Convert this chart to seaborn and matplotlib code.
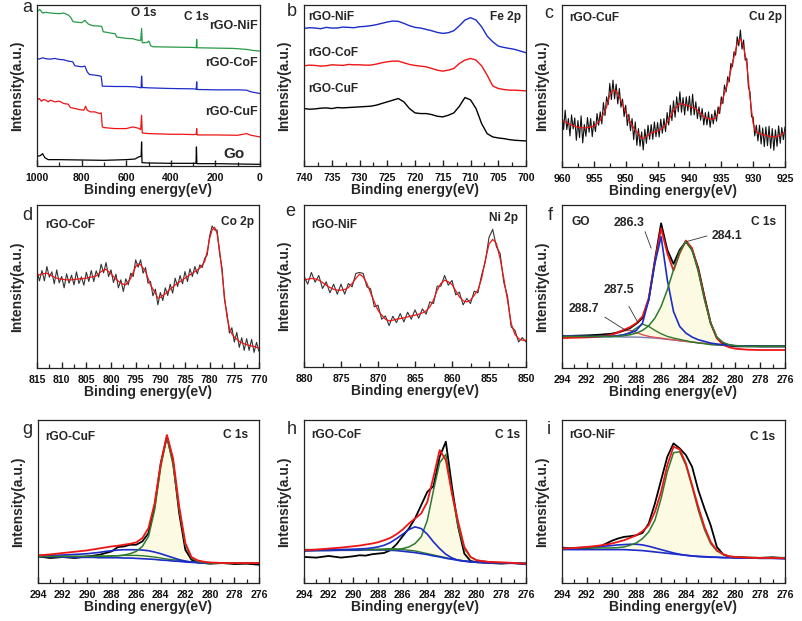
import matplotlib
matplotlib.use('Agg')
import matplotlib.pyplot as plt
from matplotlib.ticker import MultipleLocator, AutoMinorLocator
import numpy as np
import seaborn as sns

# ---------------- a: survey spectra (stacked, a.u.)
a_go_ev = [1000, 985, 975, 965, 950, 900, 800, 700, 600, 560, 545, 533, 531, 529, 500, 400, 300, 287, 285, 283, 200, 100, 0]
a_go = [29, 31, 37, 25, 19, 19, 18, 17, 19, 21, 27, 29, 72, 10, 9, 8, 8, 8, 57, 7, 7, 6, 5]
a_cuf_ev = [1000, 990, 980, 970, 960, 950, 940, 920, 900, 880, 860, 850, 830, 810, 790, 782, 775, 760, 740, 720,
            712, 707, 700, 650, 600, 570, 545, 535, 531, 528, 500, 450, 400, 350, 300, 286, 284, 282, 200, 100,
            60, 40, 0]
a_cuf = [197, 202, 194, 199, 197, 192, 197, 192, 194, 187, 185, 175, 172, 169, 167, 179, 167, 162, 162, 157,
         159, 117, 115, 112, 112, 117, 113, 109, 152, 99, 97, 96, 95, 95, 94, 95, 112, 93, 93, 92,
         97, 92, 87]
a_cof_ev = [1000, 990, 975, 960, 940, 920, 900, 880, 860, 840, 830, 800, 785, 775, 765, 740, 720, 712, 707, 650,
            600, 560, 540, 533, 531, 528, 500, 450, 400, 300, 286, 284, 282, 200, 100, 60, 40, 0]
a_cof = [322, 320, 324, 321, 320, 322, 319, 318, 314, 312, 300, 297, 299, 282, 274, 272, 270, 268, 239, 238,
         238, 237, 235, 234, 269, 235, 234, 233, 232, 231, 230, 252, 229, 228, 228, 227, 222, 217]
a_nif_ev = [1000, 988, 975, 960, 940, 920, 900, 880, 860, 850, 838, 800, 785, 770, 750, 720, 710, 703, 670, 650,
            642, 620, 600, 570, 550, 535, 531, 528, 505, 498, 490, 480, 400, 300, 286, 284, 282, 200, 118, 60,
            30, 0]
a_nif = [462, 469, 458, 460, 458, 457, 456, 458, 452, 446, 432, 429, 436, 425, 420, 419, 418, 402, 398, 396,
         386, 384, 382, 381, 377, 376, 412, 369, 370, 374, 360, 357, 356, 355, 354, 379, 354, 353, 352, 349,
         346, 344]

# ---------------- b: Fe 2p
b_ev = [740, 739, 738, 737, 736, 735, 734, 733, 732, 731, 730, 729, 728, 727, 726, 725, 724, 723, 722, 721,
        720, 719, 718, 717, 716, 715, 714, 713, 712, 711, 710, 709, 708, 707, 706, 705, 704, 703, 702, 701, 700]
b_nif = [412, 414, 413, 411, 415, 413, 413, 416, 415, 414, 417, 418, 420, 423, 427, 431, 434, 433, 427, 420,
         415, 413, 409, 405, 400, 397, 399, 405, 420, 437, 444, 437, 417, 389, 372, 359, 355, 352, 349, 344, 339]
b_cof = [300, 302, 301, 299, 300, 303, 302, 301, 304, 303, 303, 302, 302, 305, 309, 312, 314, 314, 309, 304,
         301, 299, 297, 292, 287, 284, 287, 292, 307, 317, 322, 317, 300, 272, 240, 232, 229, 227, 227, 226, 225]
b_cuf = [172, 170, 171, 173, 174, 172, 175, 174, 175, 176, 177, 178, 179, 182, 187, 192, 197, 202, 192, 172,
         159, 157, 157, 154, 149, 147, 152, 159, 179, 205, 198, 172, 127, 97, 87, 84, 82, 79, 77, 76, 75]

# ---------------- c: Cu 2p (raw 0.25 eV, fit 0.5 eV)
c_ev = np.arange(960, 924.9, -0.25)
c_raw = [160, 112, 170, 112, 145, 93, 156, 114, 147, 80,
         139, 88, 153, 72, 127, 92, 148, 104, 145, 91,
         137, 106, 160, 125, 165, 129, 193, 154, 210, 187,
         250, 202, 260, 204, 248, 189, 235, 179, 203, 151,
         185, 124, 158, 109, 145, 82, 135, 65, 115, 62,
         105, 51, 113, 71, 125, 83, 127, 83, 135, 91,
         133, 90, 143, 101, 145, 106, 163, 126, 185, 139,
         198, 149, 210, 165, 225, 164, 208, 156, 210, 168,
         212, 155, 218, 156, 195, 145, 180, 140, 175, 126,
         163, 126, 165, 119, 158, 129, 170, 137, 180, 160,
         210, 190, 245, 225, 270, 255, 310, 300, 345, 335,
         390, 363, 410, 353, 380, 320, 325, 240, 225, 150,
         150, 93, 125, 78, 125, 69, 117, 61, 120, 64,
         122, 56, 115, 50, 111, 62, 123, 71, 118, 82,
         120]
c_fit_ev = np.arange(960, 924.9, -0.5)
c_fit = [140, 135, 130, 126, 122, 119, 118, 117, 118, 120,
         122, 130, 140, 158, 180, 215, 230, 228, 210, 188,
         165, 143, 125, 110, 100, 85, 88, 95, 102, 105,
         108, 113, 120, 133, 150, 168, 180, 190, 188, 185,
         182, 178, 175, 165, 155, 148, 145, 143, 145, 160,
         190, 220, 250, 290, 330, 370, 385, 360, 310, 210,
         130, 105, 100, 97, 95, 92, 90, 91, 93, 98,
         105]

# ---------------- d: Co 2p
d_ev = np.arange(815, 769.9, -0.5)
d_raw = [292, 262, 293, 262, 305, 273, 289, 253, 295, 256,
         275, 241, 283, 255, 279, 250, 289, 254, 274, 249,
         288, 260, 293, 260, 292, 273, 312, 286, 317, 275,
         295, 257, 282, 241, 265, 230, 268, 250, 285, 275,
         325, 303, 325, 285, 302, 255, 260, 217, 237, 190,
         227, 203, 241, 218, 252, 225, 270, 245, 278, 253,
         290, 260, 298, 275, 305, 283, 310, 302, 330, 340,
         398, 427, 415, 415, 345, 302, 205, 165, 105, 121,
         78, 107, 62, 91, 53, 88, 53, 86, 47, 77,
         50]
d_fit = [277, 280, 283, 284, 285, 281, 277, 273, 270, 268,
         267, 266, 265, 265, 265, 266, 267, 268, 268, 269,
         270, 272, 273, 275, 277, 283, 290, 294, 297, 290,
         283, 275, 267, 261, 255, 252, 250, 260, 270, 287,
         305, 313, 310, 300, 290, 270, 250, 237, 225, 210,
         212, 218, 223, 230, 237, 243, 250, 255, 260, 265,
         270, 275, 280, 285, 290, 295, 300, 310, 320, 350,
         390, 415, 423, 405, 355, 290, 215, 155, 120, 103,
         93, 87, 80, 76, 73, 70, 68, 66, 65, 62,
         60]

# ---------------- e: Ni 2p
e_ev = np.arange(880, 849.9, -0.5)
e_raw = [272, 248, 283, 254, 274, 235, 255, 222, 248, 218,
         248, 218, 250, 240, 280, 283, 280, 240, 234, 180,
         185, 143, 153, 124, 152, 133, 160, 135, 164, 143,
         171, 146, 174, 158, 195, 190, 242, 242, 274, 245,
         259, 216, 224, 186, 205, 190, 227, 222, 275, 315,
         388, 412, 360, 340, 253, 212, 120, 110, 75, 88,
         75]
e_fit = [260, 263, 265, 264, 260, 253, 245, 238, 233, 230,
         230, 232, 238, 250, 265, 278, 270, 250, 222, 195,
         170, 155, 143, 138, 140, 143, 145, 147, 150, 153,
         155, 158, 162, 168, 180, 200, 230, 250, 260, 255,
         247, 228, 210, 198, 195, 200, 215, 230, 265, 320,
         368, 382, 370, 325, 265, 200, 130, 98, 85, 80,
         80]

# ---------------- f-i: C 1s
cs_ev = [294, 293, 292, 291, 290, 289.5, 289, 288.5, 288, 287.5, 287, 286.5, 286, 285.5, 285,
         284.5, 284, 283.5, 283, 282.5, 282, 281.5, 281, 280.5, 280, 279, 278, 277, 276]

f_raw = [95, 97, 98, 100, 103, 107, 113, 120, 133, 150, 205, 325, 435, 355, 313,
         355, 380, 355, 300, 215, 135, 90, 73, 68, 65, 65, 65, 65, 65]
f_fit = [90, 91, 92, 94, 100, 107, 115, 123, 135, 155, 210, 320, 420, 345, 293,
         345, 383, 360, 295, 210, 135, 90, 70, 62, 58, 55, 54, 54, 54]
f_c286 = [97, 96, 95, 95, 95, 97, 100, 105, 113, 135, 205, 315, 395, 265, 170,
          125, 105, 93, 85, 80, 75, 72, 70, 68, 67, 66, 65, 65, 65]
f_c284 = [95, 95, 95, 95, 95, 95, 97, 100, 105, 113, 127, 150, 185, 235, 295,
          350, 380, 355, 290, 205, 135, 93, 77, 70, 67, 65, 65, 65, 65]
f_c287 = [95, 95, 95, 95, 95, 97, 100, 107, 120, 132, 125, 113, 103, 95, 90,
          86, 82, 78, 75, 73, 70, 69, 68, 67, 67, 66, 65, 65, 65]
f_c288 = [95, 95, 96, 98, 100, 105, 112, 113, 107, 100, 95, 92, 90, 87, 85,
          82, 80, 78, 76, 74, 73, 71, 70, 68, 67, 66, 65, 65, 65]
f_base = [95, 95, 95, 94, 94, 94, 93, 93, 93, 92, 91, 90, 88, 86, 84,
          82, 80, 78, 76, 74, 72, 70, 69, 68, 67, 66, 65, 65, 65]

g_raw = [80, 75, 78, 75, 80, 82, 85, 90, 95, 108, 110, 115, 115, 125, 150,
         230, 360, 440, 365, 210, 100, 70, 62, 60, 58, 60, 57, 58, 55]
g_fit = [83, 86, 90, 94, 98, 101, 104, 107, 110, 112, 115, 118, 122, 135, 165,
         240, 360, 445, 375, 230, 120, 78, 68, 64, 62, 60, 60, 60, 60]
g_main = [80, 80, 80, 80, 80, 80, 80, 80, 81, 82, 84, 88, 95, 110, 140,
          220, 350, 440, 355, 220, 115, 75, 65, 62, 60, 60, 60, 60, 60]
g_blue = [82, 83, 84, 86, 88, 90, 92, 95, 97, 99, 100, 100, 100, 99, 97,
          93, 88, 82, 76, 70, 66, 63, 62, 60, 60, 60, 60, 60, 60]
g_green = [80, 80, 80, 80, 80, 80, 81, 81, 82, 82, 83, 83, 83, 82, 80,
           78, 75, 72, 70, 68, 65, 63, 62, 61, 60, 60, 60, 60, 60]
g_base = [80, 79, 78, 77, 77, 77, 76, 76, 76, 76, 75, 75, 74, 73, 72,
          71, 69, 68, 66, 65, 63, 62, 61, 61, 60, 60, 60, 60, 60]

h_raw = [78, 76, 81, 76, 80, 83, 82, 86, 88, 90, 98, 116, 140, 163, 193,
         233, 273, 290, 378, 423, 288, 168, 88, 66, 62, 60, 58, 60, 56]
h_fit = [98, 100, 103, 106, 110, 112, 115, 118, 122, 128, 135, 146, 160, 178, 193,
         208, 243, 318, 398, 368, 268, 183, 108, 78, 68, 63, 62, 60, 58]
h_main = [100, 100, 100, 100, 100, 100, 100, 100, 100, 100, 100, 100, 103, 108, 118,
          138, 188, 278, 360, 385, 268, 168, 103, 78, 68, 63, 60, 60, 60]
h_blue = [98, 99, 100, 100, 101, 102, 103, 105, 108, 113, 121, 133, 146, 160, 168,
          163, 146, 123, 103, 86, 75, 68, 65, 63, 62, 61, 60, 59, 58]
h_green = [96, 97, 98, 99, 100, 100, 101, 101, 101, 102, 103, 102, 100, 98, 96,
           92, 88, 84, 80, 76, 72, 69, 66, 64, 63, 61, 60, 59, 58]
h_base = [96, 97, 97, 98, 98, 98, 99, 99, 99, 99, 98, 97, 95, 93, 91,
          88, 85, 81, 78, 74, 71, 68, 66, 64, 63, 61, 60, 59, 58]

i_raw = [106, 103, 104, 108, 126, 133, 138, 140, 143, 150, 178, 238, 308, 378, 418,
         403, 383, 348, 278, 223, 173, 108, 86, 78, 78, 76, 75, 77, 74]
i_fit = [103, 105, 108, 112, 118, 123, 128, 135, 143, 155, 173, 213, 273, 353, 408,
         400, 358, 293, 228, 168, 123, 98, 86, 80, 78, 76, 75, 75, 74]
i_main = [103, 105, 105, 105, 105, 106, 108, 113, 120, 133, 153, 188, 253, 333, 390,
          393, 353, 288, 218, 160, 118, 96, 86, 80, 78, 76, 76, 76, 76]
i_blue = [103, 105, 107, 109, 112, 114, 115, 116, 116, 114, 110, 105, 100, 95, 90,
          86, 83, 81, 79, 78, 77, 77, 76, 76, 75, 75, 74, 74, 73]
i_base = [100, 100, 100, 100, 100, 100, 100, 99, 98, 97, 95, 93, 91, 89, 87,
          85, 83, 81, 80, 79, 78, 77, 76, 76, 75, 75, 74, 74, 73]

RED = '#f01414'
BLUE = '#1c2cc8'
GREEN = '#269a46'
DKGREEN = '#2d7a2d'
YELLOW = '#fcfae2'

sns.set_style('white')
plt.rcParams['font.family'] = ['Liberation Sans', 'DejaVu Sans']
plt.rcParams['font.weight'] = 'bold'
plt.rcParams['xtick.direction'] = 'in'

fig = plt.figure(figsize=(8.03, 6.21), dpi=100)


def box(l, t, r, b):
    return [l / 803, 1 - b / 621, (r - l) / 803, (b - t) / 621]


def line(ax, x, y, c, lw=1.0):
    sns.lineplot(x=list(x), y=y, ax=ax, color=c, linewidth=lw, estimator=None, sort=False)


def style(ax, xlim, ytop, major):
    ax.set_xlim(*xlim)
    ax.set_ylim(0, ytop)
    ax.xaxis.set_major_locator(MultipleLocator(major))
    ax.xaxis.set_minor_locator(AutoMinorLocator(2))
    ax.set_yticks([])
    ax.tick_params(axis='x', which='both', bottom=True, top=False, color='#222222')
    ax.tick_params(axis='x', which='major', length=4, width=1.0, labelsize=7.6, pad=5, labelcolor='#111111')
    ax.tick_params(axis='x', which='minor', length=3, width=0.9)
    ax.set_xlabel('Binding energy(eV)', fontsize=10, fontweight='bold', labelpad=0)
    ax.set_ylabel('Intensity(a.u.)', fontsize=10, fontweight='bold', labelpad=9)
    for s in ax.spines.values():
        s.set_linewidth(0.9)
        s.set_color('#222222')


def label(ax, x, y, s, ha='left', size=8.6):
    ax.text(x, y, s, ha=ha, va='center', fontsize=size, fontweight='bold')


# a
ax = fig.add_axes(box(37, 5, 260, 166))
line(ax, a_go_ev, a_go, 'black', 0.9)
line(ax, a_cuf_ev, a_cuf, RED, 0.9)
line(ax, a_cof_ev, a_cof, BLUE, 0.9)
line(ax, a_nif_ev, a_nif, GREEN, 0.9)
style(ax, (1000, 0), 482, 200)
label(ax, 522, 459, 'O 1s', 'center', 8.5)
label(ax, 283, 447, 'C 1s', 'center', 8.5)
label(ax, 118, 419, 'rGO-NiF', 'center', 9)
label(ax, 126, 307, 'rGO-CoF', 'center', 9)
label(ax, 130, 162, 'rGO-CuF', 'center', 9)
label(ax, 115, 35, 'Go', 'center', 11)

# b
ax = fig.add_axes(box(304, 5, 526, 166))
line(ax, b_ev, b_nif, BLUE, 1.0)
line(ax, b_ev, b_cof, RED, 1.0)
line(ax, b_ev, b_cuf, 'black', 1.0)
style(ax, (740, 700), 482, 5)
label(ax, 739.3, 447, 'rGO-NiF')
label(ax, 739.3, 337, 'rGO-CoF')
label(ax, 739.3, 232, 'rGO-CuF')
label(ax, 700.8, 447, 'Fe 2p', 'right')

# c
ax = fig.add_axes(box(562, 5, 785, 167))
line(ax, c_ev, c_raw, '#111111', 0.8)
line(ax, c_fit_ev, c_fit, RED, 0.9)
style(ax, (960, 925), 485, 5)
label(ax, 958.8, 445, 'rGO-CuF')
label(ax, 925.5, 450, 'Cu 2p', 'right')

# d
ax = fig.add_axes(box(37, 205, 259, 368))
line(ax, d_ev, d_raw, '#333333', 0.8)
line(ax, d_ev, d_fit, RED, 0.9)
style(ax, (815, 770), 490, 5)
label(ax, 813.3, 430, 'rGO-CoF')
label(ax, 770.9, 440, 'Co 2p', 'right')

# e
ax = fig.add_axes(box(304, 205, 526, 367))
line(ax, e_ev, e_raw, '#333333', 0.8)
line(ax, e_ev, e_fit, RED, 0.9)
style(ax, (880, 850), 485, 5)
label(ax, 879, 425, 'rGO-NiF')
label(ax, 851, 445, 'Ni 2p', 'right')

# f
ax = fig.add_axes(box(562, 205, 785, 368))
ax.fill_between(cs_ev, f_base, f_c284, color=YELLOW, lw=0)
line(ax, cs_ev, f_base, '#7a7ab8', 1.0)
line(ax, cs_ev, f_c288, '#e05050', 1.0)
line(ax, cs_ev, f_c287, DKGREEN, 1.0)
line(ax, cs_ev, f_raw, 'black', 1.3)
line(ax, cs_ev, f_fit, RED, 1.3)
line(ax, cs_ev, f_c286, BLUE, 1.2)
line(ax, cs_ev, f_c284, DKGREEN, 1.1)
style(ax, (294, 276), 490, 2)
label(ax, 293.25, 440, 'GO')
label(ax, 276.7, 440, 'C 1s', 'right')
for txt, tx, ty, x0, y0, x1, y1 in [('286.3', 288.6, 435, 287.3, 410, 286.8, 360),
                                    ('284.1', 280.7, 397, 282.3, 397, 283.95, 380),
                                    ('287.5', 289.4, 233, 288.6, 185, 287.85, 135),
                                    ('288.7', 292.2, 177, 290.55, 153, 288.85, 113)]:
    label(ax, tx, ty, txt, 'center', 8.8)
    ax.plot([x0, x1], [y0, y1], color='#333333', lw=0.6)

# g
ax = fig.add_axes(box(38, 420, 259, 583))
ax.fill_between(cs_ev, g_base, g_main, color=YELLOW, lw=0)
line(ax, cs_ev, g_raw, 'black', 1.3)
line(ax, cs_ev, g_green, DKGREEN, 1.0)
line(ax, cs_ev, g_base, BLUE, 1.2)
line(ax, cs_ev, g_blue, BLUE, 1.2)
line(ax, cs_ev, g_main, DKGREEN, 1.1)
line(ax, cs_ev, g_fit, RED, 1.3)
style(ax, (294, 276), 490, 2)
label(ax, 293.4, 440, 'rGO-CuF')
label(ax, 276.9, 445, 'C 1s', 'right')

# h
ax = fig.add_axes(box(304, 420, 526, 583))
ax.fill_between(cs_ev, h_base, h_main, color=YELLOW, lw=0)
ax.fill_between(cs_ev, h_base, h_green, color=YELLOW, lw=0)
line(ax, cs_ev, h_raw, 'black', 1.3)
line(ax, cs_ev, h_green, DKGREEN, 1.0)
line(ax, cs_ev, h_base, BLUE, 1.2)
line(ax, cs_ev, h_main, DKGREEN, 1.1)
line(ax, cs_ev, h_blue, BLUE, 1.2)
line(ax, cs_ev, h_fit, RED, 1.3)
style(ax, (294, 276), 488, 2)
label(ax, 293.4, 443, 'rGO-CoF')
label(ax, 276.5, 443, 'C 1s', 'right')

# i
ax = fig.add_axes(box(562, 420, 785, 583))
ax.fill_between(cs_ev, i_base, i_main, color=YELLOW, lw=0)
line(ax, cs_ev, i_raw, 'black', 1.3)
line(ax, cs_ev, i_base, BLUE, 1.2)
line(ax, cs_ev, i_blue, BLUE, 1.2)
line(ax, cs_ev, i_main, DKGREEN, 1.1)
line(ax, cs_ev, i_fit, RED, 1.3)
style(ax, (294, 276), 488, 2)
label(ax, 293.4, 443, 'rGO-NiF')
label(ax, 276.8, 438, 'C 1s', 'right')

# panel letters
for s, px, py in [('a', 27, 8), ('b', 292, 11), ('c', 549, 14), ('d', 27, 216), ('e', 290, 212),
                  ('f', 550, 216), ('g', 27, 430), ('h', 292, 430), ('i', 549, 429)]:
    fig.text(px / 803, 1 - py / 621, s, ha='center', va='center', fontsize=13, fontweight='normal')

fig.savefig('out.png', dpi=100)
